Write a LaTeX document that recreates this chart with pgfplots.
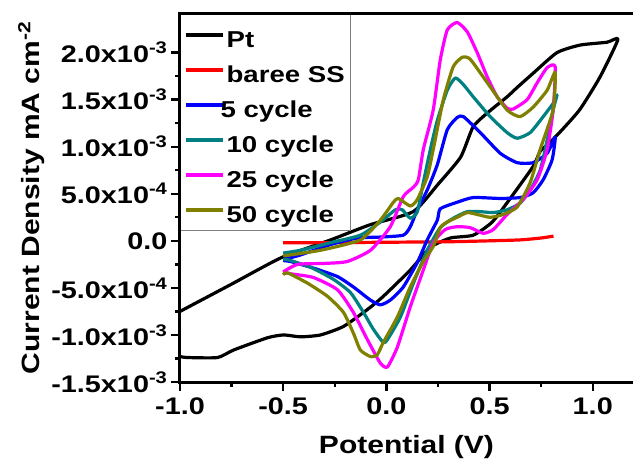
\documentclass[border=0pt]{standalone}
\usepackage{fontspec}
\setmainfont{Liberation Sans}[FakeStretch=1.2]
\usepackage{pgfplots}
\pgfplotsset{compat=1.18}
\definecolor{cteal}{RGB}{0,128,128}
\definecolor{colive}{RGB}{128,128,0}
\definecolor{cmag}{RGB}{255,0,255}
\begin{document}
\begin{tikzpicture}
\useasboundingbox (-180pt,-77pt) rectangle (453pt,382pt);
\begin{axis}[
  name=ax,
  at={(0,0)}, anchor=south west,
  scale only axis, width=453pt, height=368pt,
  xmin=-1.0, xmax=1.195, ymin=-1.5, ymax=2.41,
  axis line style={draw=none},
  tick pos=left, tick align=outside,
  major tick length=9pt, minor tick length=5pt,
  every tick/.style={black, line width=2.4pt},
  minor x tick num=1, minor y tick num=1,
  xtick={-1,-0.5,0,0.5,1},
  xticklabels={-1.0,-0.5,0.0,0.5,1.0},
  ytick={-1.5,-1,-0.5,0,0.5,1,1.5,2},
  yticklabels={-1.5x10\textsuperscript{-3},-1.0x10\textsuperscript{-3},-5.0x10\textsuperscript{-4},0.0,5.0x10\textsuperscript{-4},1.0x10\textsuperscript{-3},1.5x10\textsuperscript{-3},2.0x10\textsuperscript{-3}},
  tick label style={font=\fontsize{24}{26}\selectfont\bfseries},
  xticklabel style={yshift=-3pt},
  xlabel={Potential (V)}, ylabel={Current Density mA cm\textsuperscript{-2}},
  label style={font=\fontsize{25}{28}\selectfont\bfseries},
  xlabel style={yshift=-14pt},
  legend style={at={(0,1)}, anchor=north west, draw=gray, line width=0.8pt,
    font=\fontsize{23}{26}\selectfont\bfseries, inner xsep=4pt, inner ysep=3pt,
    nodes={inner ysep=4.5pt, text height=26pt, text depth=0pt},
    cells={anchor=west}},
  legend image code/.code={\draw[#1, line width=3.2pt] (0pt,0pt) -- (37pt,0pt);},
  every axis plot/.append style={line width=3.2pt, line join=round, smooth, tension=0.35},
]
\addplot[black] coordinates {(-1.0,-0.75) (-0.75,-0.46) (-0.51,-0.18) (-0.27,0.01) (-0.08,0.17) (0.13,0.31) (0.25,0.60) (0.36,0.89) (0.42,1.21) (0.49,1.36) (0.585,1.53) (0.634,1.63) (0.711,1.78) (0.827,2.00) (0.939,2.08) (1.069,2.11) (1.122,2.14) (1.035,1.74) (0.939,1.40) (0.86,1.20) (0.79,1.04) (0.745,0.95) (0.711,0.79) (0.60,0.45) (0.513,0.20) (0.421,0.06) (0.31,0.03) (0.213,-0.07) (0.116,-0.31) (-0.015,-0.59) (-0.092,-0.73) (-0.208,-0.91) (-0.319,-1.0) (-0.416,-1.02) (-0.498,-1.0) (-0.576,-1.03) (-0.74,-1.16) (-0.818,-1.24) (-0.963,-1.24) (-1.0,-1.23)};
\addlegendentry{Pt}
\addplot[red] coordinates {(-0.5,-0.02) (-0.3,-0.02) (0,-0.015) (0.3,-0.01) (0.5,0.0) (0.65,0.01) (0.75,0.03) (0.81,0.05)};
\addlegendentry{baree SS}
\addplot[blue] coordinates {(-0.5,-0.2) (-0.416,-0.15) (-0.271,-0.04) (-0.14,0.03) (-0.029,0.04) (0.082,0.06) (0.116,0.15) (0.15,0.33) (0.198,0.54) (0.247,0.81) (0.295,1.18) (0.343,1.31) (0.373,1.32) (0.455,1.15) (0.552,0.93) (0.634,0.83) (0.711,0.83) (0.779,0.93) (0.818,1.10) (0.803,0.86) (0.76,0.65) (0.711,0.51) (0.648,0.46) (0.552,0.45) (0.421,0.46) (0.343,0.41) (0.261,0.34) (0.247,0.22) (0.198,0.01) (0.15,-0.23) (0.082,-0.49) (0.019,-0.63) (-0.029,-0.68) (-0.077,-0.63) (-0.16,-0.49) (-0.237,-0.38) (-0.353,-0.29) (-0.464,-0.22) (-0.5,-0.21)};
\addlegendentry{\hspace*{-6pt}5 cycle}
\addplot[cteal] coordinates {(-0.5,-0.13) (-0.416,-0.10) (-0.271,-0.02) (-0.126,0.06) (-0.029,0.20) (0.044,0.33) (0.077,0.33) (0.116,0.24) (0.15,0.31) (0.179,0.62) (0.213,0.97) (0.247,1.28) (0.295,1.60) (0.334,1.73) (0.373,1.66) (0.421,1.53) (0.503,1.32) (0.585,1.15) (0.634,1.09) (0.697,1.15) (0.76,1.32) (0.808,1.46) (0.827,1.55) (0.808,1.39) (0.779,1.07) (0.745,0.75) (0.697,0.54) (0.648,0.40) (0.585,0.33) (0.518,0.30) (0.455,0.31) (0.392,0.31) (0.324,0.24) (0.261,0.14) (0.198,-0.10) (0.131,-0.45) (0.068,-0.81) (0.005,-1.05) (-0.015,-1.08) (-0.063,-0.94) (-0.111,-0.76) (-0.174,-0.55) (-0.256,-0.41) (-0.368,-0.28) (-0.479,-0.20) (-0.5,-0.2)};
\addlegendentry{10 cycle}
\addplot[cmag] coordinates {(-0.5,-0.33) (-0.43,-0.25) (-0.3,-0.24) (-0.19,-0.22) (-0.077,-0.10) (0.019,0.15) (0.082,0.47) (0.131,0.57) (0.155,0.65) (0.179,0.97) (0.227,1.39) (0.261,1.92) (0.295,2.24) (0.343,2.32) (0.392,2.22) (0.44,2.00) (0.489,1.74) (0.537,1.53) (0.585,1.41) (0.614,1.40) (0.682,1.50) (0.731,1.68) (0.779,1.84) (0.818,1.85) (0.808,1.39) (0.779,0.97) (0.731,0.65) (0.663,0.44) (0.585,0.28) (0.518,0.12) (0.469,0.08) (0.406,0.14) (0.343,0.15) (0.285,0.12) (0.227,-0.02) (0.179,-0.31) (0.116,-0.70) (0.053,-1.13) (0.005,-1.34) (-0.029,-1.30) (-0.092,-1.05) (-0.16,-0.76) (-0.237,-0.52) (-0.353,-0.39) (-0.464,-0.35) (-0.5,-0.33)};
\addlegendentry{25 cycle}
\addplot[colive] coordinates {(-0.5,-0.16) (-0.319,-0.10) (-0.126,0.01) (-0.029,0.22) (0.034,0.41) (0.058,0.45) (0.116,0.37) (0.15,0.44) (0.198,0.68) (0.227,0.97) (0.276,1.50) (0.324,1.85) (0.368,1.95) (0.406,1.93) (0.489,1.68) (0.585,1.39) (0.648,1.32) (0.711,1.42) (0.779,1.60) (0.818,1.79) (0.808,1.39) (0.745,0.97) (0.697,0.62) (0.634,0.36) (0.566,0.28) (0.503,0.25) (0.44,0.28) (0.392,0.30) (0.343,0.25) (0.295,0.20) (0.261,0.14) (0.227,-0.06) (0.179,-0.22) (0.116,-0.49) (0.053,-0.81) (-0.015,-1.08) (-0.044,-1.21) (-0.077,-1.23) (-0.126,-1.16) (-0.16,-0.98) (-0.208,-0.76) (-0.285,-0.59) (-0.382,-0.45) (-0.479,-0.34) (-0.5,-0.36)};
\addlegendentry{50 cycle}
\end{axis}
\draw[black, line width=3pt, line cap=rect] (ax.north east) -- (ax.north west) -- (ax.south west) -- (ax.south east);
\end{tikzpicture}
\end{document}
